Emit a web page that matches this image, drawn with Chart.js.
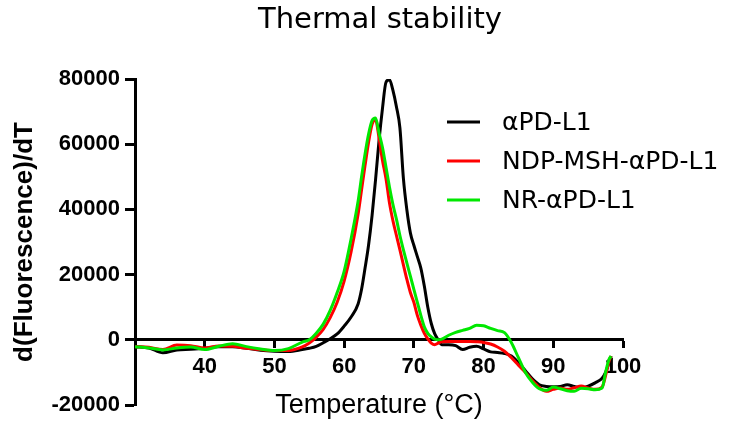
<!DOCTYPE html>
<html>
<head>
<meta charset="utf-8">
<script src="https://cdn.jsdelivr.net/npm/chart.js@4"></script>
<style>
  body { margin: 0; background: #fff; }
  #wrap { width: 750px; height: 425px; }
</style>
</head>
<body>
<div id="wrap"><canvas id="chart"></canvas></div>
<script>
// data
const chartTitle = "Thermal stability";
const seriesNames = ["αPD-L1", "NDP-MSH-αPD-L1", "NR-αPD-L1"];
const seriesColors = ["#000000", "#ff0000", "#00e800"];
const yTicks = [-20000, 0, 20000, 40000, 60000, 80000];
const xTicks = [30, 40, 50, 60, 70, 80, 90, 100];

const temps = [30,32,34,36,38,40,42,44,46,48,50,52,54,
  55,56,57,58,59,60,61,
  62,62.5,63,63.5,64,64.5,65,65.5,66,66.5,67,67.5,68,68.5,69,69.5,70,70.5,71,71.5,72,72.5,73,73.5,74,
  75,76,77,78,79,80,81,82,83,84,85,86,87,88,89,90,91,92,93,94,95,96,97,
  97.5,98,98.3];

const pdl1 = [-2100,-2500,-4000,-3100,-2900,-2600,-2100,-2100,-2600,-3200,-3500,-3600,-3000,
  -2600,-2000,-900,300,1800,4200,7000,
  11000,15500,22000,29000,38000,49000,61000,71000,79000,79800,76500,71500,65000,49500,39800,32800,29000,25500,22000,16500,10000,5000,1800,0,-1500,
  -1500,-1800,-3000,-2300,-2000,-2800,-3700,-3900,-4200,-5000,-7000,-9500,-12000,-13800,-14300,-14400,-14300,-13800,-14300,-14700,-14200,-13200,-11800,
  -10000,-7000,-5000];

const ndpPdl1 = [-2100,-2300,-3000,-1600,-1800,-2500,-1900,-2000,-2600,-3000,-3300,-3300,-2200,
  -1000,800,3200,6800,11500,18000,27000,
  38500,46000,53500,60500,66000,67500,62000,55000,49500,42000,36500,32000,27600,23000,18500,14500,11500,7500,4500,2000,300,-1000,-1500,-1000,-600,
  -500,-500,-500,-500,-600,-800,-1300,-2200,-3500,-5500,-7800,-10000,-12500,-14600,-15800,-15200,-14800,-15200,-14700,-14200,-14800,-15200,-14500,
  -11000,-6500,-5000];

const nrPdl1 = [-2100,-2500,-3100,-2500,-2200,-3000,-2000,-1200,-2100,-2800,-3300,-2700,-700,
  0,2000,4800,9000,14500,21000,31000,
  42500,50000,57000,63000,67200,68000,63500,59000,53000,46900,41500,37000,32000,27600,23500,19500,15500,11500,7500,4000,2000,900,200,0,200,
  1400,2300,2900,3500,4500,4300,3500,2800,2200,-900,-5500,-10000,-13000,-15000,-15500,-14500,-15000,-15600,-15800,-14900,-15000,-15300,-14800,
  -10000,-6000,-5000];

const allSeries = [pdl1, ndpPdl1, nrPdl1];

const tickFont = { family: "'Liberation Sans', Arial, sans-serif", size: 22, weight: 'bold' };

// title + legend drawn on top of the plot
const labelsPlugin = {
  id: 'labels',
  afterDraw(chart) {
    const ctx = chart.ctx;
    ctx.save();
    ctx.fillStyle = '#000';
    ctx.font = '29px "DejaVu Sans"';
    ctx.textAlign = 'center';
    ctx.textBaseline = 'middle';
    ctx.fillText(chartTitle, 380, 20);

    ctx.font = '25px "DejaVu Sans"';
    ctx.textAlign = 'left';
    chart.data.datasets.forEach((ds, i) => {
      const y = 122 + i * 39;
      ctx.strokeStyle = ds.borderColor;
      ctx.lineWidth = 3;
      ctx.beginPath();
      ctx.moveTo(447, y);
      ctx.lineTo(480, y);
      ctx.stroke();
      ctx.fillText(ds.label, 502, y + 1);
    });
    ctx.restore();
  }
};

new Chart(document.getElementById("chart"), {
  type: 'line',
  data: {
    datasets: allSeries.map((vals, i) => ({
      label: seriesNames[i],
      data: temps.map((t, j) => ({ x: t, y: vals[j] })),
      borderColor: seriesColors[i],
      borderWidth: 3,
      pointRadius: 0,
      fill: false,
      cubicInterpolationMode: 'monotone',
      order: 2 - i
    }))
  },
  options: {
    responsive: true,
    maintainAspectRatio: false,
    animation: false,
    layout: { padding: { top: 79, right: 127, bottom: 20, left: 0 } },
    plugins: {
      legend: { display: false },
      title: { display: false },
      tooltip: { enabled: false }
    },
    scales: {
      x: {
        type: 'linear',
        position: { y: 0 },
        min: 30,
        max: 100,
        afterBuildTicks: (s) => { s.ticks = xTicks.map(v => ({ value: v })); },
        border: { display: true, color: '#000', width: 3 },
        grid: { drawOnChartArea: false, drawTicks: true, tickLength: 7, tickWidth: 3, tickColor: '#000' },
        ticks: {
          color: '#000',
          font: tickFont,
          padding: 7,
          maxRotation: 0,
          callback: (v) => v === 30 ? '' : String(v)
        },
        title: {
          display: true,
          text: 'Temperature (°C)',
          color: '#000',
          font: { family: "'Liberation Sans', Arial, sans-serif", size: 27 },
          padding: { top: 2, bottom: 0 }
        }
      },
      y: {
        position: 'left',
        min: -20000,
        max: 80000,
        afterBuildTicks: (s) => { s.ticks = yTicks.map(v => ({ value: v })); },
        afterFit: (s) => { s.width = 135; },
        border: { display: true, color: '#000', width: 3 },
        grid: { drawOnChartArea: false, drawTicks: true, tickLength: 10, tickWidth: 3, tickColor: '#000' },
        ticks: {
          color: '#000',
          font: tickFont,
          padding: 5,
          callback: (v) => String(v)
        },
        title: {
          display: true,
          text: 'd(Fluorescence)/dT',
          color: '#000',
          font: { family: "'Liberation Sans', Arial, sans-serif", size: 26, weight: 'bold' },
          padding: { top: 9, bottom: 0 }
        }
      }
    }
  },
  plugins: [labelsPlugin]
});
</script>
</body>
</html>
